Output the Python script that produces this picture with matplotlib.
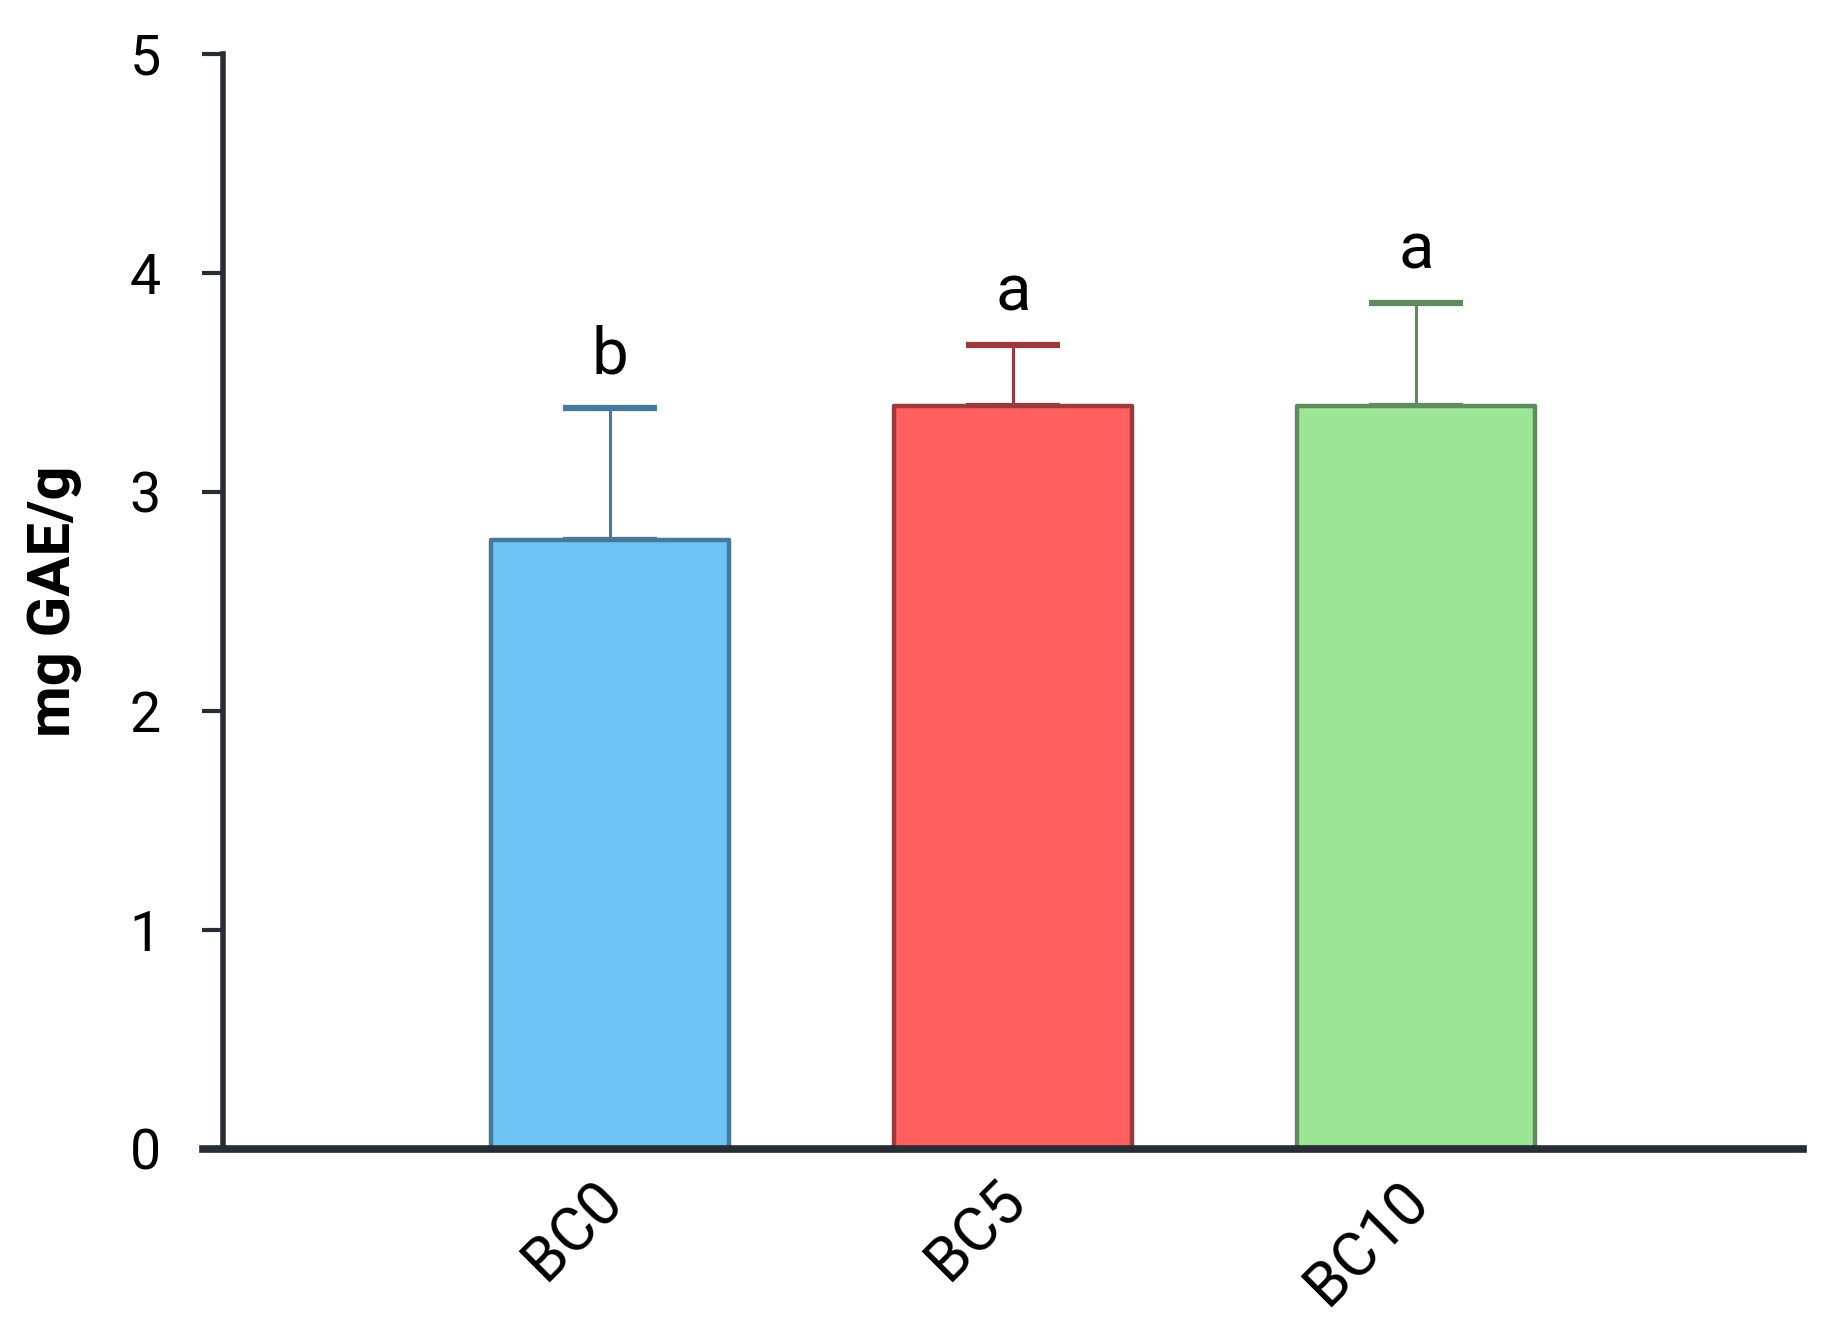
import matplotlib
matplotlib.use("Agg")
import matplotlib.pyplot as plt
from matplotlib.transforms import ScaledTranslation

# data
samples = ["BC0", "BC5", "BC10"]
means = [2.78, 3.39, 3.39]
errors = [0.60, 0.28, 0.47]
letters = ["b", "a", "a"]
yticks = [0, 1, 2, 3, 4, 5]

fill_colors = ["#6dc3f3", "#ff5f5f", "#9ce596"]
edge_colors = ["#47799b", "#9b3a3d", "#5e8c5e"]
axis_color = "#272c35"

plt.rcParams['font.family'] = ['Roboto', 'DejaVu Sans']

fig = plt.figure(figsize=(18.44, 13.42), dpi=100)
ax = fig.add_axes([0.121, 0.144, 0.857, 0.816])

x = list(range(len(samples)))
bars = ax.bar(x, means, width=0.59, color=fill_colors, edgecolor=edge_colors,
              linewidth=3.2, zorder=2)
for b in bars:
    b.set_joinstyle('round')

# upper error bars only
for xi, m, e, c in zip(x, means, errors, edge_colors):
    ax.errorbar(xi, m, yerr=[[0], [e]], fmt='none', ecolor=c, elinewidth=2.2,
                capsize=34, capthick=4.5, zorder=1)

for xi, m, e, t in zip(x, means, errors, letters):
    ax.text(xi, m + e + 0.1, t, ha='center', va='bottom', fontsize=47)

ax.set_xlim(-0.96, 2.96)
ax.set_ylim(0, 5)
ax.set_yticks(yticks)
ax.set_xticks(x)
ax.set_xticklabels(samples, rotation=45, ha='right', rotation_mode='anchor')
ax.tick_params(axis='y', length=15, width=3, color=axis_color, labelsize=40, pad=30)
ax.tick_params(axis='x', length=0, labelsize=44, pad=16)
ax.set_ylabel("mg GAE/g", fontsize=43, fontweight='bold', labelpad=34)

# nudge the slanted labels a bit to the left
shift = ScaledTranslation(-0.18, 0, fig.dpi_scale_trans)
for lbl in ax.get_xticklabels():
    lbl.set_transform(lbl.get_transform() + shift)

for s in ['top', 'right']:
    ax.spines[s].set_visible(False)
ax.spines['left'].set_linewidth(4)
ax.spines['left'].set_color(axis_color)
ax.spines['bottom'].set_linewidth(5.5)
ax.spines['bottom'].set_color(axis_color)
ax.spines['bottom'].set_bounds(-1.01, 2.96)

fig.savefig("out.png", dpi=100, facecolor='white')
